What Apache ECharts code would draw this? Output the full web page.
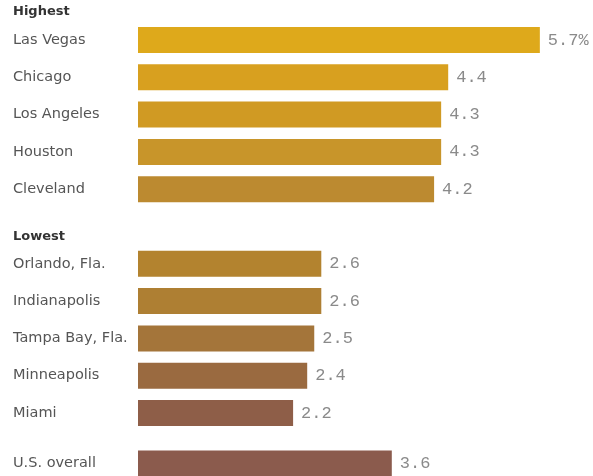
<!DOCTYPE html>
<html>
<head>
<meta charset="utf-8">
<script src="https://cdn.jsdelivr.net/npm/echarts@6/dist/echarts.min.js"></script>
<style>html,body{margin:0;padding:0;background:#fff;}#c{width:593px;height:476px;}</style>
</head>
<body>
<div id="c"></div>
<script>
const highestCities = ['Las Vegas', 'Chicago', 'Los Angeles', 'Houston', 'Cleveland'];
const highestValues = [5.7, 4.4, 4.3, 4.3, 4.2];
const lowestCities = ['Orlando, Fla.', 'Indianapolis', 'Tampa Bay, Fla.', 'Minneapolis', 'Miami'];
const lowestValues = [2.6, 2.6, 2.5, 2.4, 2.2];
const overallCities = ['U.S. overall'];
const overallValues = [3.6];
const groupTitles = ['Highest', 'Lowest'];

const highestColors = ['#DEA91B', '#D8A01F', '#D09A23', '#C8952A', '#BC8A30'];
const lowestColors = ['#B3832F', '#AE7F33', '#A4753A', '#9A6A40', '#8E5E48'];
const overallColors = ['#8B5B4D'];

const chart = echarts.init(document.getElementById('c'), null, {renderer: 'canvas'});
const rowH = 37.3;
const gridTops = [21.35, 245.15, 450.4];
const groups = [
  {cities: highestCities, values: highestValues, colors: highestColors, pct: true},
  {cities: lowestCities, values: lowestValues, colors: lowestColors},
  {cities: overallCities, values: overallValues, colors: overallColors}
];
const grid = [], xAxis = [], yAxis = [], series = [];
groups.forEach((g, i) => {
  grid.push({left: 138, width: 423, top: gridTops[i], height: rowH * g.cities.length, containLabel: false});
  xAxis.push({type: 'value', gridIndex: i, min: 0, max: 6, show: false});
  yAxis.push({
    type: 'category', gridIndex: i, inverse: true, data: g.cities,
    axisLine: {show: false}, axisTick: {show: false}, splitLine: {show: false},
    axisLabel: {align: 'left', margin: 125, color: '#555', fontFamily: 'DejaVu Sans', fontSize: 14.5}
  });
  series.push({
    type: 'bar', xAxisIndex: i, yAxisIndex: i, barWidth: 26, silent: true,
    data: g.values.map((v, k) => ({value: v, itemStyle: {color: g.colors[k]}})),
    label: {
      show: true, position: 'right', distance: 8,
      fontFamily: 'Liberation Mono', fontSize: 17, color: '#8a8a8a',
      formatter: p => p.value.toFixed(1) + (g.pct && p.dataIndex === 0 ? '%' : '')
    }
  });
});
chart.setOption({
  animation: false,
  grid, xAxis, yAxis, series,
  graphic: [
    {type: 'text', left: 13, top: 5, style: {text: groupTitles[0], font: 'bold 13px "DejaVu Sans"', fill: '#333'}},
    {type: 'text', left: 13, top: 230, style: {text: groupTitles[1], font: 'bold 13px "DejaVu Sans"', fill: '#333'}}
  ]
});
</script>
</body>
</html>
